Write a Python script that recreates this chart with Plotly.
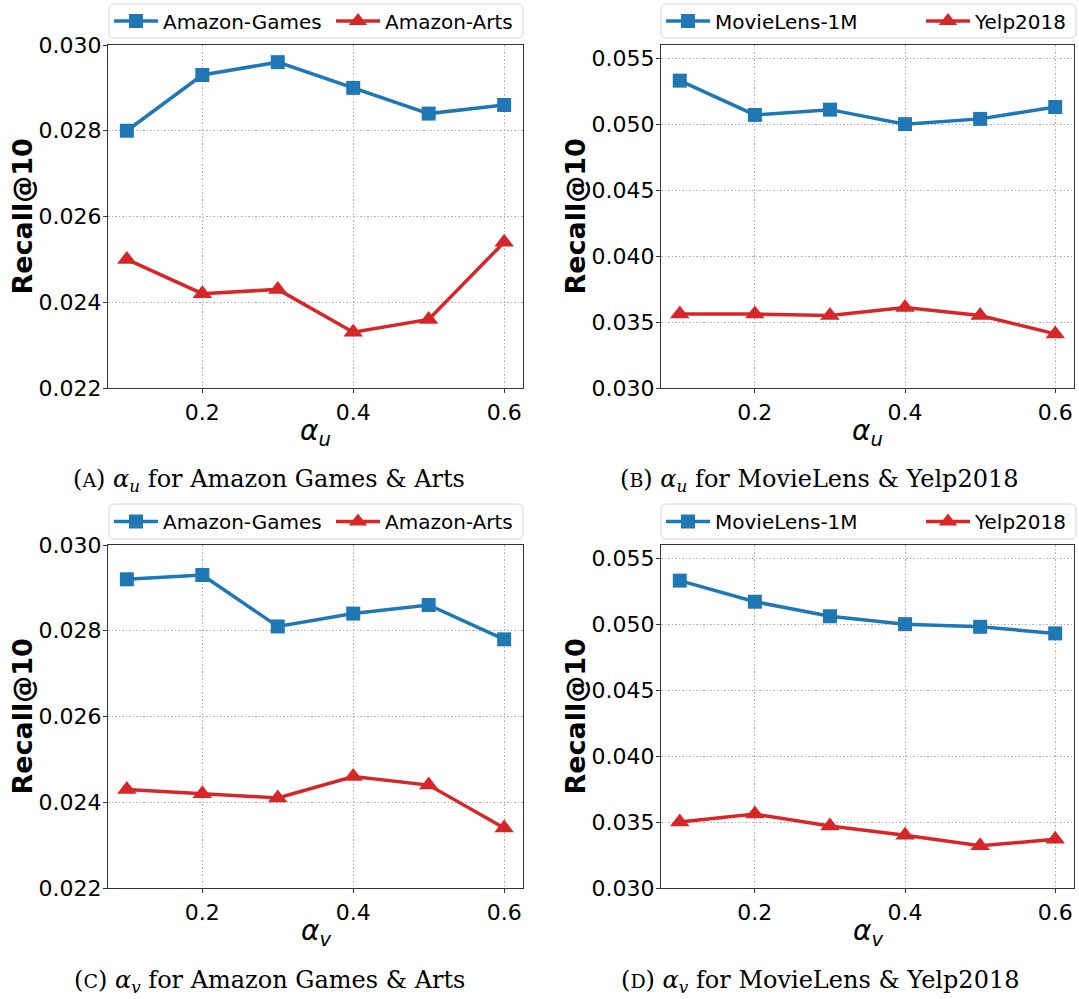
import plotly.graph_objects as go

W, H = 1079, 999

alpha = [0.1, 0.2, 0.3, 0.4, 0.5, 0.6]

# (A) alpha_u, Amazon
a_games = [0.0280, 0.0293, 0.0296, 0.0290, 0.0284, 0.0286]
a_arts = [0.0250, 0.0242, 0.0243, 0.0233, 0.0236, 0.0254]
# (B) alpha_u, MovieLens & Yelp
b_ml = [0.0533, 0.0507, 0.0511, 0.0500, 0.0504, 0.0513]
b_yelp = [0.0356, 0.0356, 0.0355, 0.0361, 0.0355, 0.0341]
# (C) alpha_v, Amazon
c_games = [0.0292, 0.0293, 0.0281, 0.0284, 0.0286, 0.0278]
c_arts = [0.0243, 0.0242, 0.0241, 0.0246, 0.0244, 0.0234]
# (D) alpha_v, MovieLens & Yelp
d_ml = [0.0533, 0.0517, 0.0506, 0.0500, 0.0498, 0.0493]
d_yelp = [0.0350, 0.0356, 0.0347, 0.0340, 0.0332, 0.0337]

x_ticks = [0.2, 0.4, 0.6]
amazon_ticks = [0.022, 0.024, 0.026, 0.028, 0.030]
ml_ticks = [0.030, 0.035, 0.040, 0.045, 0.050, 0.055]

captions = [
    "(<span style='font-size:19px'>A</span>) <i>α<sub>u</sub></i> for Amazon Games &amp; Arts",
    "(<span style='font-size:19px'>B</span>) <i>α<sub>u</sub></i> for MovieLens &amp; Yelp2018",
    "(<span style='font-size:19px'>C</span>) <i>α<sub>v</sub></i> for Amazon Games &amp; Arts",
    "(<span style='font-size:19px'>D</span>) <i>α<sub>v</sub></i> for MovieLens &amp; Yelp2018",
]
x_titles = ["<i>α<sub>u</sub></i>", "<i>α<sub>u</sub></i>", "<i>α<sub>v</sub></i>", "<i>α<sub>v</sub></i>"]

BLUE = "#1f77b4"
RED = "#d62728"
FONT = "DejaVu Sans"

# panel pixel boxes: (left, right, top, bottom)
boxes = [(108, 523, 45, 388), (661, 1074, 45, 388), (108, 523, 545, 888), (661, 1074, 545, 888)]
# legend frames: (x0, y0, x1, y1) in px
leg_boxes = [(109, 4, 523, 38), (661, 4, 1076, 38), (109, 504, 523, 539), (661, 504, 1076, 539)]
panels = [
    (a_games, a_arts, "Amazon-Games", "Amazon-Arts", amazon_ticks, [0.022, 0.030]),
    (b_ml, b_yelp, "MovieLens-1M", "Yelp2018", ml_ticks, [0.030, 0.056]),
    (c_games, c_arts, "Amazon-Games", "Amazon-Arts", amazon_ticks, [0.022, 0.030]),
    (d_ml, d_yelp, "MovieLens-1M", "Yelp2018", ml_ticks, [0.030, 0.056]),
]


def px(x):
    return x / W


def py(y):
    return 1 - y / H


def rounded_rect(x0, y0, x1, y1, r=5):
    pts = [
        f"M{px(x0 + r)},{py(y0)}",
        f"L{px(x1 - r)},{py(y0)}",
        f"Q{px(x1)},{py(y0)} {px(x1)},{py(y0 + r)}",
        f"L{px(x1)},{py(y1 - r)}",
        f"Q{px(x1)},{py(y1)} {px(x1 - r)},{py(y1)}",
        f"L{px(x0 + r)},{py(y1)}",
        f"Q{px(x0)},{py(y1)} {px(x0)},{py(y1 - r)}",
        f"L{px(x0)},{py(y0 + r)}",
        f"Q{px(x0)},{py(y0)} {px(x0 + r)},{py(y0)}",
        "Z",
    ]
    return " ".join(pts)


fig = go.Figure()
annotations = []
shapes = []
layout = dict(
    width=W, height=H, margin=dict(l=0, r=0, t=0, b=0, autoexpand=False),
    paper_bgcolor="white", plot_bgcolor="white",
    font=dict(family=FONT, color="black"),
    showlegend=True,
)

for i, (s1, s2, n1, n2, yt, yr) in enumerate(panels):
    k = "" if i == 0 else str(i + 1)
    left, right, top, bottom = boxes[i]
    lx0, ly0, lx1, ly1 = leg_boxes[i]
    leg = "legend" + k
    fig.add_trace(go.Scatter(
        x=alpha, y=s1, name=n1, mode="lines+markers",
        line=dict(color=BLUE, width=3.5),
        marker=dict(symbol="square", size=14, color=BLUE),
        xaxis="x" + k, yaxis="y" + k, legend=leg,
    ))
    fig.add_trace(go.Scatter(
        x=alpha, y=s2, name=n2, mode="lines+markers",
        line=dict(color=RED, width=3.5),
        marker=dict(symbol="triangle-up", size=17, color=RED),
        xaxis="x" + k, yaxis="y" + k, legend=leg,
    ))
    axcommon = dict(
        showline=True, linecolor="#333333", linewidth=1.2, mirror=True,
        showgrid=True, gridcolor="#b0b0b0", griddash="1.5px,2px", gridwidth=1,
        ticks="outside", ticklen=4, tickcolor="#333333", zeroline=False,
        tickfont=dict(family=FONT, size=22, color="black"),
        automargin=False,
    )
    layout["xaxis" + k] = dict(
        axcommon, domain=[px(left), px(right)], anchor="y" + k,
        range=[0.075, 0.625], tickvals=x_ticks, tickformat=".1f",
    )
    layout["yaxis" + k] = dict(
        axcommon, domain=[py(bottom), py(top)], anchor="x" + k,
        range=yr, tickvals=yt, tickformat=".3f", ticklabelstandoff=-3,
    )
    # legend frame
    shapes.append(dict(
        type="path", path=rounded_rect(lx0, ly0, lx1, ly1), xref="paper", yref="paper",
        line=dict(color="#d4d4d4", width=1), fillcolor="white", layer="below",
    ))
    is_amz = i % 2 == 0
    layout[leg] = dict(
        orientation="h", x=px(lx0), y=py((ly0 + ly1) / 2),
        xanchor="left", yanchor="middle",
        borderwidth=0, bgcolor="rgba(0,0,0,0)",
        font=dict(family=FONT, size=20, color="black"),
        entrywidth=163 if is_amz else 201, entrywidthmode="pixels",
        itemwidth=44,
    )
    # x-axis title
    annotations.append(dict(
        text=x_titles[i], showarrow=False,
        x=px((left + right) / 2), y=py(bottom + 44),
        xref="paper", yref="paper", xanchor="center", yanchor="middle",
        font=dict(family=FONT, size=28, color="black"),
    ))
    # y-axis title
    annotations.append(dict(
        text="<b>Recall@10</b>", textangle=-90, showarrow=False,
        x=px(left - 86), y=py((top + bottom) / 2),
        xref="paper", yref="paper", xanchor="center", yanchor="middle",
        font=dict(family=FONT, size=27, color="black"),
    ))
    # caption
    cx = 269 if is_amz else 820
    annotations.append(dict(
        text=captions[i], showarrow=False,
        x=px(cx), y=py(bottom + 93),
        xref="paper", yref="paper", xanchor="center", yanchor="middle",
        font=dict(family="DejaVu Serif", size=24, color="black"),
    ))

layout["annotations"] = annotations
layout["shapes"] = shapes
fig.update_layout(**layout)
fig.write_html("out.html")
